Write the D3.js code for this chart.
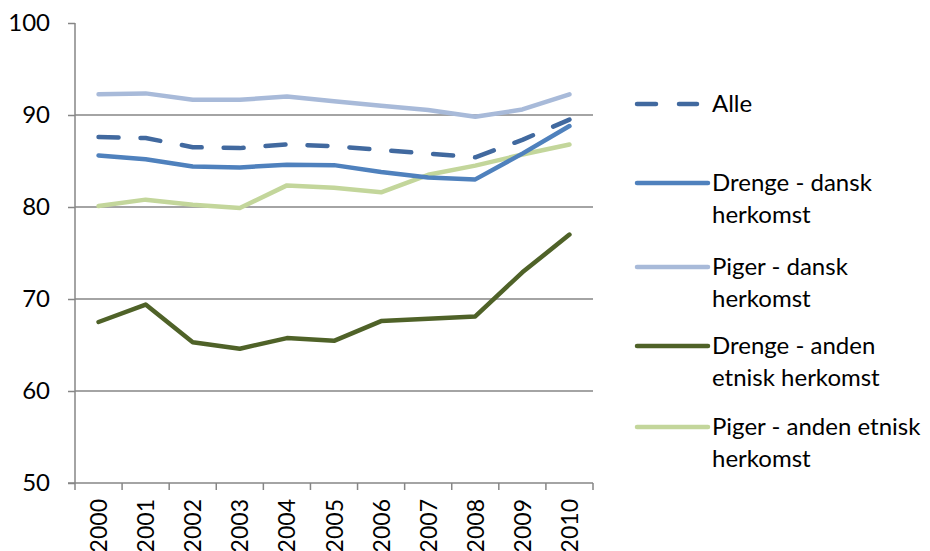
<!DOCTYPE html>
<html><head><meta charset="utf-8">
<script src="https://cdn.jsdelivr.net/npm/d3@7"></script>
<style>body{margin:0;background:#fff}svg{display:block}text{font-family:Lato,"Open Sans",sans-serif;fill:#000}</style>
</head><body><svg id="c" width="930" height="551"></svg>
<script>
const years = ["2000","2001","2002","2003","2004","2005","2006","2007","2008","2009","2010"];
const alle = [87.6,87.5,86.5,86.4,86.8,86.6,86.2,85.8,85.4,87.3,89.5];
const drengeDansk = [85.6,85.2,84.4,84.3,84.6,84.55,83.8,83.2,83.0,85.8,88.8];
const pigerDansk = [92.25,92.35,91.65,91.65,92.0,91.5,91.0,90.55,89.8,90.6,92.25];
const drengeAnden = [67.5,69.4,65.3,64.6,65.75,65.45,67.6,67.85,68.1,72.9,77.0];
const pigerAnden = [80.1,80.8,80.25,79.9,82.35,82.1,81.6,83.5,84.5,85.7,86.8];
const yTicks = [50,60,70,80,90,100];
const seriesNames = [["Alle"],["Drenge - dansk","herkomst"],["Piger - dansk","herkomst"],["Drenge - anden","etnisk herkomst"],["Piger - anden etnisk","herkomst"]];

const series = [
  {name:seriesNames[0], values:alle, color:"#41699f", dash:"20 22"},
  {name:seriesNames[1], values:drengeDansk, color:"#4f81bd"},
  {name:seriesNames[2], values:pigerDansk, color:"#a8bad9"},
  {name:seriesNames[3], values:drengeAnden, color:"#4f6228"},
  {name:seriesNames[4], values:pigerAnden, color:"#c3d69b"}
];
const svg = d3.select("#c");
const x = d3.scaleBand().domain(years).range([75,593]).padding(0);
const y = d3.scaleLinear().domain([50,100]).range([483,23]);
const cx = d => x(d) + x.bandwidth()/2;
const grid = "#868686";

// gridlines
svg.append("g").selectAll("line").data(yTicks.filter(v=>v>50 && v<100)).join("line")
  .attr("x1",75).attr("x2",593).attr("y1",d=>y(d)).attr("y2",d=>y(d))
  .attr("stroke",grid).attr("stroke-width",1.5);
// y axis
const ya = svg.append("g").attr("transform","translate(75,0)")
  .call(d3.axisLeft(y).tickValues(yTicks).tickSize(7).tickPadding(18).tickFormat(d3.format("d")));
ya.select(".domain").attr("stroke",grid).attr("stroke-width",1.5).attr("d","M0,"+y(100)+"V"+y(50));
ya.selectAll(".tick line").attr("stroke",grid).attr("stroke-width",1.5);
ya.selectAll(".tick text").attr("font-size",24).attr("font-family","Lato").attr("fill","#000");
// x axis
const xa = svg.append("g").attr("transform","translate(0,"+y(50)+")");
xa.append("line").attr("x1",68).attr("x2",593).attr("stroke",grid).attr("stroke-width",1.5);
xa.selectAll("line.t").data(years.concat(["end"])).join("line").attr("class","t")
  .attr("x1",(d,i)=>i<years.length?x(d):x.range()[1]).attr("x2",(d,i)=>i<years.length?x(d):x.range()[1])
  .attr("y1",0).attr("y2",7).attr("stroke",grid).attr("stroke-width",1.5);
xa.selectAll("text").data(years).join("text")
  .attr("transform",d=>"translate("+(cx(d)+8.5)+",16) rotate(-90)")
  .attr("text-anchor","end").attr("font-size",23).text(d=>d);

// lines
const line = d3.line().x((d,i)=>cx(years[i])).y(d=>y(d));
const order = [3,4,2,1,0];
order.forEach(k=>{
  const s = series[k];
  svg.append("path").attr("d",line(s.values)).attr("fill","none").attr("stroke",s.color)
    .attr("stroke-width",4.5).attr("stroke-linejoin","round").attr("stroke-linecap","round")
    .attr("stroke-dasharray",s.dash||null);
});

// legend
const legY = [104,183,267,346,427];
const lg = svg.append("g");
series.forEach((s,i)=>{
  if(s.dash){
    lg.append("line").attr("x1",637).attr("x2",656).attr("y1",legY[i]).attr("y2",legY[i]).attr("stroke",s.color).attr("stroke-width",4.5).attr("stroke-linecap","round");
    lg.append("line").attr("x1",679).attr("x2",697).attr("y1",legY[i]).attr("y2",legY[i]).attr("stroke",s.color).attr("stroke-width",4.5).attr("stroke-linecap","round");
  } else {
    lg.append("line").attr("x1",637).attr("x2",708).attr("y1",legY[i]).attr("y2",legY[i]).attr("stroke",s.color).attr("stroke-width",4.5).attr("stroke-linecap","round");
  }
  const t = lg.append("text").attr("x",712).attr("y",legY[i]+8).attr("font-size",24);
  s.name.forEach((n,j)=>t.append("tspan").attr("x",712).attr("dy",j===0?0:32).text(n));
});
</script></body></html>
